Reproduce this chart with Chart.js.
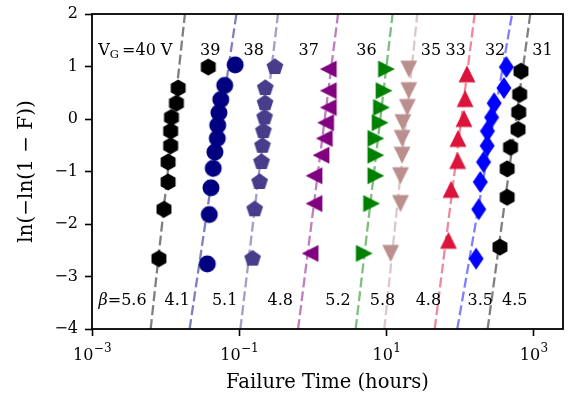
<!DOCTYPE html>
<html><head><meta charset="utf-8">
<script src="https://cdn.jsdelivr.net/npm/chart.js@4/dist/chart.umd.min.js"></script>
<style>html,body{margin:0;padding:0;background:#fff;}#wrap{width:573px;height:399px;}</style>
</head><body><div id="wrap"><canvas id="c" width="573" height="399"></canvas></div>
<script>
// ---- data ----
const voltages = ['40', '39', '38', '37', '36', '35', '33', '32', '31'];
// failure times (hours) and ln(-ln(1-F)) for each gate voltage
const t40 = [0.0081, 0.0095, 0.0108, 0.0108, 0.0117, 0.0117, 0.0120, 0.0140, 0.0148, 0.0380];
const w40 = [-2.66, -1.72, -1.20, -0.82, -0.51, -0.23, 0.03, 0.30, 0.59, 0.99];
const t39 = [0.0368, 0.0392, 0.0413, 0.0443, 0.0467, 0.0503, 0.0510, 0.0529, 0.0562, 0.0635, 0.0881];
const w39 = [-2.76, -1.82, -1.31, -0.94, -0.63, -0.37, -0.12, 0.12, 0.37, 0.64, 1.03];
const t38 = [0.152, 0.162, 0.189, 0.201, 0.207, 0.213, 0.221, 0.224, 0.226, 0.305];
const w38 = [-2.66, -1.72, -1.20, -0.82, -0.51, -0.23, 0.03, 0.30, 0.59, 0.99];
const t37 = [0.918, 1.035, 1.035, 1.29, 1.43, 1.49, 1.62, 1.62, 1.62];
const w37 = [-2.56, -1.61, -1.08, -0.69, -0.37, -0.07, 0.22, 0.54, 0.95];
const t36 = [5.00, 6.28, 7.17, 7.17, 7.17, 8.19, 8.55, 9.27, 10.0];
const w36 = [-2.56, -1.61, -1.08, -0.69, -0.37, -0.07, 0.22, 0.54, 0.95];
const t35 = [11.4, 15.5, 15.5, 16.3, 16.3, 16.7, 19.2, 20.1, 20.1];
const w35 = [-2.56, -1.61, -1.08, -0.69, -0.37, -0.07, 0.22, 0.54, 0.95];
const t33 = [69.5, 75.4, 92.7, 93.5, 113, 117, 124];
const w33 = [-2.31, -1.34, -0.79, -0.37, 0.01, 0.39, 0.86];
const t32 = [165, 179, 188, 208, 233, 235, 268, 290, 394, 425];
const w32 = [-2.66, -1.72, -1.20, -0.82, -0.51, -0.23, 0.03, 0.30, 0.59, 0.99];
const t31 = [348, 436, 436, 484, 612, 626, 645, 671];
const w31 = [-2.44, -1.49, -0.95, -0.54, -0.20, 0.13, 0.47, 0.91];
// Weibull fit parameters (shape beta, scale eta in hours)
const betas = [5.6, 4.1, 5.1, 4.8, 5.2, 5.8, 4.8, 3.5, 4.5];
const etas = [0.0128, 0.0562, 0.227, 1.45, 8.24, 18.6, 104, 287, 576];
const betaLabels = ['5.6', '4.1', '5.1', '4.8', '5.2', '5.8', '4.8', '3.5', '4.5'];
// axis ticks
const xTickValues = [1e-3, 1e-1, 1e1, 1e3];
const xTickBase = ['10', '10', '10', '10'];
const xTickExp = ['\u22123', '\u22121', '1', '3'];
const yTickValues = [-4, -3, -2, -1, 0, 1, 2];
const yTickLabels = ['\u22124', '\u22123', '\u22122', '\u22121', '0', '1', '2'];

const times = [t40, t39, t38, t37, t36, t35, t33, t32, t31];
const weib = [w40, w39, w38, w37, w36, w35, w33, w32, w31];

// ---- styles ----
const colors = ['#000000', '#000080', '#483D8B', '#800080', '#008000', '#BC8F8F', '#DC143C', '#0000FF', '#000000'];
const lineColors = ['rgba(0,0,0,0.5)', 'rgba(0,0,128,0.5)', 'rgba(72,61,139,0.5)', 'rgba(128,0,128,0.5)',
  'rgba(0,128,0,0.5)', 'rgba(188,143,143,0.5)', 'rgba(220,20,60,0.5)', 'rgba(0,0,255,0.5)', 'rgba(0,0,0,0.5)'];
const shapes = ['hexagon', 'circle', 'pentagon', 'tri-left', 'tri-right', 'tri-down', 'tri-up', 'thin-diamond', 'hexagon'];
// label positions (data coordinates)
const voltLabelX = [0.00388, 0.0404, 0.157, 0.881, 5.35, 40.3, 87.1, 299, 1312];
const voltLabelY = 1.22;
const betaLabelX = [0.0026, 0.0144, 0.0633, 0.360, 2.20, 8.81, 37.1, 188, 553];
const betaLabelY = -3.54;

function marker(shape, color) {
  const c = document.createElement('canvas');
  c.width = 24; c.height = 24;
  const g = c.getContext('2d');
  g.fillStyle = color;
  g.translate(12, 12);
  g.beginPath();
  const poly = pts => { pts.forEach((p, i) => i ? g.lineTo(p[0], p[1]) : g.moveTo(p[0], p[1])); g.closePath(); };
  const reg = (n, R, rot) => { const pts = []; for (let k = 0; k < n; k++) { const a = rot + k * 2 * Math.PI / n; pts.push([R * Math.cos(a), R * Math.sin(a)]); } poly(pts); };
  const s = 8.4;
  switch (shape) {
    case 'circle': g.arc(0, 0, 8.5, 0, 2 * Math.PI); break;
    case 'hexagon': reg(6, 8.6, -Math.PI / 2); break;
    case 'pentagon': reg(5, 8.8, -Math.PI / 2); break;
    case 'tri-up': poly([[0, -s], [-s, s], [s, s]]); break;
    case 'tri-down': poly([[0, s], [-s, -s], [s, -s]]); break;
    case 'tri-left': poly([[-s, 0], [s, -s], [s, s]]); break;
    case 'tri-right': poly([[s, 0], [-s, -s], [-s, s]]); break;
    case 'thin-diamond': poly([[0, -11], [7.5, 0], [0, 11], [-7.5, 0]]); break;
  }
  g.fill();
  return c;
}

const datasets = [];
voltages.forEach((v, i) => {
  datasets.push({
    type: 'scatter',
    label: v + ' V',
    data: times[i].map((t, j) => ({ x: t, y: weib[i][j] })),
    pointStyle: marker(shapes[i], colors[i]),
    pointRadius: 9,
    order: 2
  });
  const ends = [-4, 2];
  datasets.push({
    type: 'line',
    label: v + ' V fit',
    data: ends.map(yv => ({ x: etas[i] * Math.exp(yv / betas[i]), y: yv })),
    borderColor: lineColors[i],
    borderWidth: 2.3,
    borderDash: [10, 4],
    pointRadius: 0,
    fill: false,
    order: 1
  });
});

Chart.defaults.font.family = "'DejaVu Serif', serif";
Chart.defaults.color = '#000';

const framePlugin = {
  id: 'frame',
  afterDraw(chart) {
    const { ctx, chartArea: a, scales: { x } } = chart;
    ctx.save();
    ctx.strokeStyle = '#000';
    ctx.lineWidth = 1.8;
    ctx.strokeRect(a.left, a.top, a.right - a.left, a.bottom - a.top);
    // x tick labels with raised exponents
    ctx.fillStyle = '#000';
    ctx.textBaseline = 'alphabetic';
    ctx.textAlign = 'left';
    const baseFont = "16px 'DejaVu Serif'";
    const expFont = "12px 'DejaVu Serif'";
    const by = a.bottom + 31;
    xTickValues.forEach((v, i) => {
      const cx = x.getPixelForValue(v);
      ctx.font = baseFont;
      const wb = ctx.measureText(xTickBase[i]).width;
      ctx.font = expFont;
      const we = ctx.measureText(xTickExp[i]).width;
      let px = cx - (wb + we) / 2;
      ctx.font = baseFont;
      ctx.fillText(xTickBase[i], px, by);
      ctx.font = expFont;
      ctx.fillText(xTickExp[i], px + wb + 0.5, by - 8);
    });
    ctx.restore();
  }
};

const labelPlugin = {
  id: 'labels',
  afterDatasetsDraw(chart) {
    const { ctx, scales: { x, y } } = chart;
    ctx.save();
    ctx.fillStyle = '#000';
    ctx.textBaseline = 'alphabetic';
    const by = y.getPixelForValue(voltLabelY);
    const big = "16px 'DejaVu Serif'";
    const small = "11.5px 'DejaVu Serif'";
    voltages.forEach((v, i) => {
      const cx = x.getPixelForValue(voltLabelX[i]);
      if (i === 0) {
        const parts = [['V', big, 0, 0], ['G', small, 3.5, 0], ['=40', big, 0, 3], ['V', big, 0, 5]];
        let total = 0;
        parts.forEach(p => { ctx.font = p[1]; total += p[3] + ctx.measureText(p[0]).width; });
        let px = cx - total / 2;
        ctx.textAlign = 'left';
        parts.forEach(p => { ctx.font = p[1]; px += p[3]; ctx.fillText(p[0], px, by + p[2]); px += ctx.measureText(p[0]).width; });
      } else {
        ctx.font = big;
        ctx.textAlign = 'center';
        ctx.fillText(v, cx, by);
      }
    });
    const bby = y.getPixelForValue(betaLabelY);
    betaLabels.forEach((b, i) => {
      const cx = x.getPixelForValue(betaLabelX[i]);
      if (i === 0) {
        ctx.font = "italic 16px 'DejaVu Serif'";
        const w1 = ctx.measureText('\u03B2').width;
        ctx.font = big;
        const w2 = ctx.measureText('=' + b).width;
        let px = cx - (w1 + w2) / 2;
        ctx.textAlign = 'left';
        ctx.font = "italic 16px 'DejaVu Serif'";
        ctx.fillText('\u03B2', px, bby);
        ctx.font = big;
        ctx.fillText('=' + b, px + w1, bby);
      } else {
        ctx.font = big;
        ctx.textAlign = 'center';
        ctx.fillText(b, cx, bby);
      }
    });
    ctx.restore();
  }
};

new Chart(document.getElementById('c'), {
  type: 'scatter',
  data: { datasets },
  options: {
    responsive: false,
    animation: false,
    devicePixelRatio: 1,
    layout: { padding: { left: 0, right: 1, top: 14, bottom: 0 } },
    plugins: { legend: { display: false }, tooltip: { enabled: false } },
    scales: {
      x: {
        type: 'logarithmic',
        min: 1e-3,
        max: 2500,
        afterBuildTicks: s => { s.ticks = xTickValues.map(v => ({ value: v, major: true })); },
        afterFit: s => { s.height = 70; s.paddingLeft = 0; s.paddingRight = 0; },
        ticks: { display: false, autoSkip: false, maxRotation: 0 },
        grid: { display: true, drawOnChartArea: false, drawTicks: true, tickLength: 7, tickWidth: 1.6, tickColor: '#000' },
        border: { display: false },
        title: { display: true, text: 'Failure Time (hours)', font: { size: 19.5 }, padding: { top: 0, bottom: 4 } }
      },
      y: {
        min: -4, max: 2,
        afterBuildTicks: s => { s.ticks = yTickValues.map(v => ({ value: v })); },
        afterFit: s => { s.width = 92; s.paddingTop = 0; s.paddingBottom = 0; },
        ticks: {
          autoSkip: false, padding: 7,
          font: { size: 16 },
          callback: (v) => { const k = yTickValues.indexOf(v); return k >= 0 ? yTickLabels[k] : ''; }
        },
        grid: { display: true, drawOnChartArea: false, drawTicks: true, tickLength: 7, tickWidth: 1.6, tickColor: '#000' },
        border: { display: false },
        title: { display: true, text: 'ln(\u2212ln(1 \u2212 F))', font: { size: 20 }, padding: { top: 15, bottom: 0 } }
      }
    }
  },
  plugins: [framePlugin, labelPlugin]
});
</script>
</body></html>
